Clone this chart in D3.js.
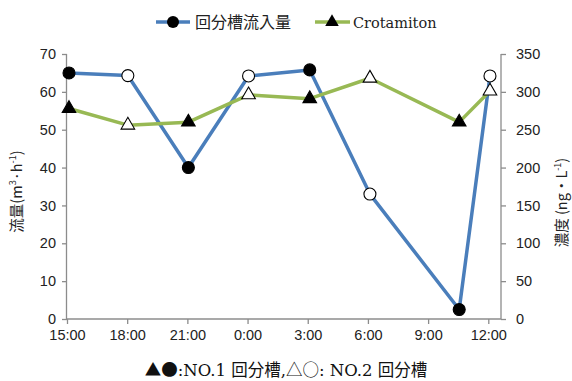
<!DOCTYPE html>
<html><head><meta charset="utf-8">
<script src="https://cdn.jsdelivr.net/npm/d3@7"></script>
<style>body{margin:0;background:#fff}svg{display:block}</style>
</head><body>
<svg id="c" width="572" height="381"></svg>
<script>
// ---- data ----
const times = ["15:06","18:02","21:03","0:03","3:06","6:06","10:33","12:05"];
const dayOffset = [0,0,0,1,1,1,1,1];
const flow = [65, 64.3, 40, 64.2, 65.8, 33, 2.5, 64.2];
const crotamiton = [278, 256, 260, 296, 291, 318, 260, 301];
const tank = [1,2,1,2,1,2,1,2];
const xTickLabels = ["15:00","18:00","21:00","0:00","3:00","6:00","9:00","12:00"];
const leftTicks = [0,10,20,30,40,50,60,70];
const rightTicks = [0,50,100,150,200,250,300,350];
const seriesNames = ["回分槽流入量","Crotamiton"];

const parse = d3.timeParse("%Y-%m-%d %H:%M");
const toDate = (t, off) => parse(`2000-01-0${1+off} ${t}`);
const dates = times.map((t,i)=>toDate(t, dayOffset[i]));

const svg = d3.select("#c");
const L = 67, R = 501, T = 54, B = 319;
const x = d3.scaleTime().domain([toDate("15:00",0), toDate("12:38",1)]).range([L, R]);
const yL = d3.scaleLinear().domain([0,70]).range([B,T]);
const yR = d3.scaleLinear().domain([0,350]).range([B,T]);

const axisColor = "#8c8c8c";
const tickFont = "'Liberation Sans', Arial, sans-serif";

const gL = svg.append("g").attr("transform",`translate(${L},0)`)
  .call(d3.axisLeft(yL).tickValues(leftTicks).tickSize(5).tickPadding(6).tickFormat(d3.format("d")));
const gR = svg.append("g").attr("transform",`translate(${R},0)`)
  .call(d3.axisRight(yR).tickValues(rightTicks).tickSize(5).tickPadding(10).tickFormat(d3.format("d")));
const xTickDates = xTickLabels.map((t,i)=>toDate(t, i<3?0:1));
const gB = svg.append("g").attr("transform",`translate(0,${B})`)
  .call(d3.axisBottom(x).tickValues(xTickDates).tickSize(5).tickPadding(6)
    .tickFormat((d,i)=>xTickLabels[i]));
[gL,gR,gB].forEach(g=>{
  g.selectAll("path,line").attr("stroke",axisColor).attr("stroke-width",1.3);
  g.selectAll("text").attr("fill","#222").style("font-family",tickFont).style("font-size","14.5px");
});
gL.select(".domain").attr("d",`M-0.5,${B}V${T}`);
gR.select(".domain").attr("d",`M0,${B}V${T}`);
gB.select(".domain").attr("d",`M${L},0H${R}`);

// axis titles
svg.append("text").attr("transform",`translate(22,${(T+B)/2+5}) rotate(-90)`)
  .attr("text-anchor","middle").style("font-family","'Noto Sans CJK JP', sans-serif")
  .style("font-size","14.5px").attr("fill","#222")
  .html('流量(m<tspan baseline-shift="super" font-size="9px">3</tspan>·h<tspan baseline-shift="super" font-size="9px">-1</tspan>)');
svg.append("text").attr("transform",`translate(567,${(T+B)/2+16}) rotate(-90)`)
  .attr("text-anchor","middle").style("font-family","'Noto Sans CJK JP', sans-serif")
  .style("font-size","14.5px").attr("fill","#222")
  .html('濃度 (ng・L<tspan baseline-shift="super" font-size="9px">-1</tspan>)');

// lines
const blue = "#4a7ebb", green = "#98b954";
const lineFlow = d3.line().x((d,i)=>x(dates[i])).y(d=>yL(d));
const lineCro = d3.line().x((d,i)=>x(dates[i])).y(d=>yR(d));
svg.append("path").datum(flow).attr("d",lineFlow).attr("fill","none")
  .attr("stroke",blue).attr("stroke-width",3.5).attr("stroke-linejoin","round");
svg.append("path").datum(crotamiton).attr("d",lineCro).attr("fill","none")
  .attr("stroke",green).attr("stroke-width",3.5).attr("stroke-linejoin","round");

const tri = d3.symbol().type(d3.symbolTriangle).size(80);
svg.append("g").selectAll("path").data(crotamiton).join("path")
  .attr("d",tri).attr("transform",(d,i)=>`translate(${x(dates[i])},${yR(d)})`)
  .attr("fill",(d,i)=>tank[i]===1?"#000":"#fff").attr("stroke","#000").attr("stroke-width",1.1);
svg.append("g").selectAll("circle").data(flow).join("circle")
  .attr("cx",(d,i)=>x(dates[i])).attr("cy",d=>yL(d)).attr("r",6)
  .attr("fill",(d,i)=>tank[i]===1?"#000":"#fff").attr("stroke","#000").attr("stroke-width",1.1);

// legend
const lg = svg.append("g");
lg.append("line").attr("x1",156).attr("x2",190).attr("y1",22).attr("y2",22).attr("stroke",blue).attr("stroke-width",3.5);
lg.append("circle").attr("cx",173).attr("cy",22).attr("r",6).attr("fill","#000");
lg.append("text").attr("x",195).attr("y",28).text(seriesNames[0])
  .style("font-family","'Noto Sans CJK JP', sans-serif").style("font-size","16px").attr("fill","#222");
lg.append("line").attr("x1",315).attr("x2",350).attr("y1",22).attr("y2",22).attr("stroke",green).attr("stroke-width",3.5);
lg.append("path").attr("d",tri).attr("transform","translate(332,22)").attr("fill","#000");
lg.append("text").attr("x",353).attr("y",28).text(seriesNames[1])
  .style("font-family","'DejaVu Serif', serif").style("font-size","14.5px").attr("fill","#222");

// caption
const cap = svg.append("text").attr("x",286).attr("y",376).attr("text-anchor","middle")
  .style("font-family","'DejaVu Serif', 'Noto Sans CJK JP', serif").style("font-size","16.5px").attr("fill","#111");
cap.append("tspan").style("font-family","'Noto Sans CJK JP', sans-serif").text("▲●");
cap.append("tspan").text(":NO.1 回分槽,");
cap.append("tspan").style("font-family","'Noto Sans CJK JP', sans-serif").text("△○");
cap.append("tspan").text(": NO.2 回分槽");
</script>
</body></html>
